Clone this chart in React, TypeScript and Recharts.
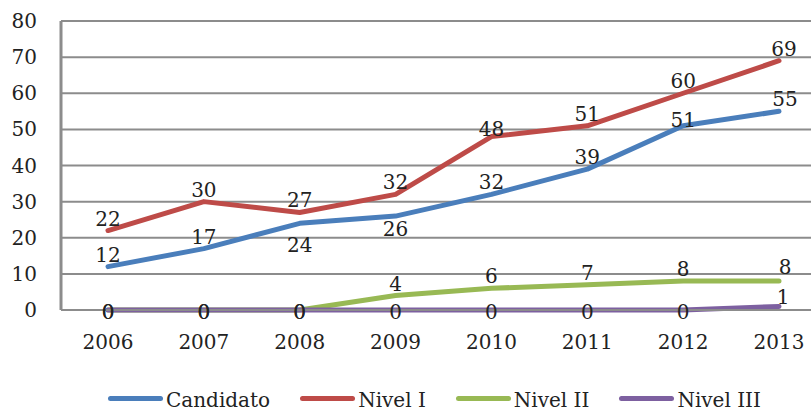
import { LineChart, Line, XAxis, YAxis, CartesianGrid, Legend, LabelList } from 'recharts';

const years = ['2006', '2007', '2008', '2009', '2010', '2011', '2012', '2013'];
const candidato = [12, 17, 24, 26, 32, 39, 51, 55];
const nivelI = [22, 30, 27, 32, 48, 51, 60, 69];
const nivelII = [0, 0, 0, 4, 6, 7, 8, 8];
const nivelIII = [0, 0, 0, 0, 0, 0, 0, 1];
const yTicks = [0, 10, 20, 30, 40, 50, 60, 70, 80];

const seriesNames = ['Candidato', 'Nivel I', 'Nivel II', 'Nivel III'];
const seriesColors = ['#4a7ebb', '#be4b48', '#98b954', '#7d60a0'];

const data = years.map((year, i) => ({
  year,
  candidato: candidato[i],
  nivelI: nivelI[i],
  nivelII: nivelII[i],
  nivelIII: nivelIII[i],
}));

const FONT = '"DejaVu Serif", serif';
const TEXT = '#222';
const GRID = '#8c8c8c';

// where each value label sits relative to its point
const labelFor = (series: string) => (props: any) => {
  const { x, y, value, index } = props;
  let dx = 0;
  let dy = -5;
  if (series === 'candidato') {
    if (index === 2) dy = 29;
    else if (index === 3) dy = 20;
    else if (index === 6) dy = 1;
    else if (index === 7) dx = 6;
  } else if (series === 'nivelI') {
    if (index === 4) dy = -1;
    if (index === 7) dx = 5;
  } else {
    if (value === 0) dy = 9;
    else if (index === 7) {
      dx = series === 'nivelII' ? 6 : 4;
      dy = series === 'nivelII' ? -7 : -2;
    }
  }
  return (
    <text x={x + dx} y={y + dy} textAnchor="middle" fontSize={20} fontFamily={FONT} fill={TEXT}>
      {value}
    </text>
  );
};

const ChartLegend = () => (
  <div style={{ height: 30, display: 'flex', alignItems: 'center', paddingLeft: 108, fontFamily: FONT, fontSize: 20, color: TEXT }}>
    {seriesNames.map((name, i) => (
      <div key={name} style={{ display: 'flex', alignItems: 'center', marginRight: 30 }}>
        <div style={{ width: 55, height: 5, borderRadius: 3, background: seriesColors[i], marginRight: 3, marginBottom: 3 }} />
        <span>{name}</span>
      </div>
    ))}
  </div>
);

export default function App() {
  const keys = ['candidato', 'nivelI', 'nivelII', 'nivelIII'];
  return (
    <div style={{ position: 'absolute', top: 0, left: 0, width: 811, height: 411, overflow: 'hidden', background: '#fff' }}>
      <LineChart width={840} height={411} data={data} margin={{ top: 21, right: 11, left: 0, bottom: 0 }}>
        <CartesianGrid vertical={false} stroke={GRID} strokeWidth={2} />
        <XAxis
          dataKey="year"
          interval={0}
          height={71}
          padding={{ left: 47, right: 50 }}
          axisLine={{ stroke: GRID, strokeWidth: 2 }}
          tickLine={false}
          tickSize={0}
          tickMargin={25}
          tick={{ fill: TEXT, fontSize: 20, fontFamily: FONT }}
        />
        <YAxis
          domain={[0, 80]}
          ticks={yTicks}
          width={61}
          axisLine={{ stroke: GRID, strokeWidth: 3 }}
          tickLine={false}
          tickSize={0}
          tickMargin={24}
          tick={{ fill: TEXT, fontSize: 20, fontFamily: FONT }}
        />
        <Legend content={<ChartLegend />} wrapperStyle={{ top: 385, left: 0, width: 840 }} />
        {keys.map((k, i) => (
          <Line
            key={k}
            dataKey={k}
            name={seriesNames[i]}
            stroke={seriesColors[i]}
            strokeWidth={5}
            strokeLinecap="round"
            strokeLinejoin="round"
            dot={false}
            isAnimationActive={false}
          >
            <LabelList dataKey={k} content={labelFor(k)} />
          </Line>
        ))}
      </LineChart>
    </div>
  );
}
